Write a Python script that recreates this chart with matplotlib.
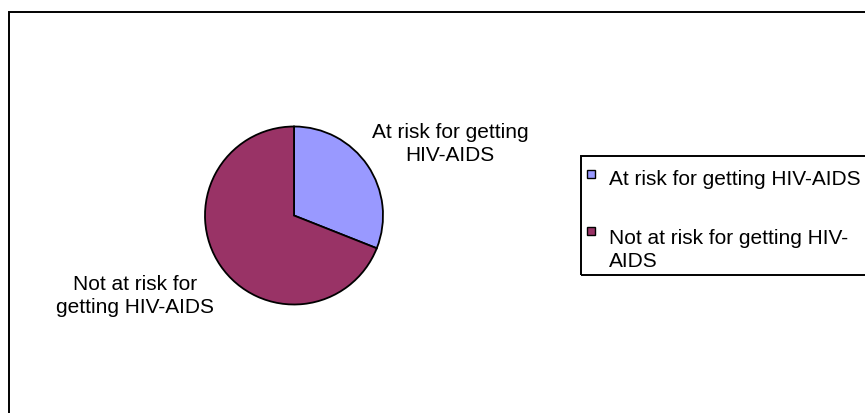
import matplotlib.pyplot as plt
from matplotlib.patches import Rectangle

plt.rcParams['font.family'] = ['Liberation Sans', 'DejaVu Sans']

labels = ['At risk for getting HIV-AIDS', 'Not at risk for getting HIV-AIDS']
slice_labels = ['At risk for getting\nHIV-AIDS', 'Not at risk for\ngetting HIV-AIDS']
legend_labels = ['At risk for getting HIV-AIDS', 'Not at risk for getting HIV-\nAIDS']
values = [31, 69]
colors = ['#9999FF', '#993366']

W, H = 865, 414
fig = plt.figure(figsize=(W / 100, H / 100), dpi=100)


def fx(x):
    return x / W


def fy(y):
    return 1 - y / H


# chart area border (runs off the right and bottom edges)
fig.patches.append(Rectangle((fx(8.5), fy(500)), fx(1000), fy(12.5) - fy(500),
                             transform=fig.transFigure, fill=False,
                             edgecolor='black', linewidth=1.4))

# pie
cx, cy, r = 294, 216.5, 89
ax = fig.add_axes([fx(cx - r), fy(cy + r), 2 * r / W, 2 * r / H])
ax.pie(values, colors=colors, startangle=90, counterclock=False,
       wedgeprops=dict(edgecolor='black', linewidth=1.3))
ax.set_xlim(-1, 1)
ax.set_ylim(-1, 1)
ax.axis('off')

# slice labels
fig.text(fx(450), fy(144), slice_labels[0], ha='center', va='center',
         fontsize=15, linespacing=1.25)
fig.text(fx(135), fy(296), slice_labels[1], ha='center', va='center',
         fontsize=15, linespacing=1.25)

# legend box
fig.patches.append(Rectangle((fx(581), fy(276)), fx(1000), fy(157) - fy(276),
                             transform=fig.transFigure, fill=False,
                             edgecolor='black', linewidth=1.4))
marker_y = [175, 232]
text_y = [180, 250]
for lab, col, my, ty in zip(legend_labels, colors, marker_y, text_y):
    fig.patches.append(Rectangle((fx(587), fy(my + 4)), 8 / W, 8 / H,
                                 transform=fig.transFigure, facecolor=col,
                                 edgecolor='black', linewidth=1.0))
    fig.text(fx(609), fy(ty), lab, ha='left', va='center', fontsize=15,
             linespacing=1.25)

fig.savefig('out.png', dpi=100)
